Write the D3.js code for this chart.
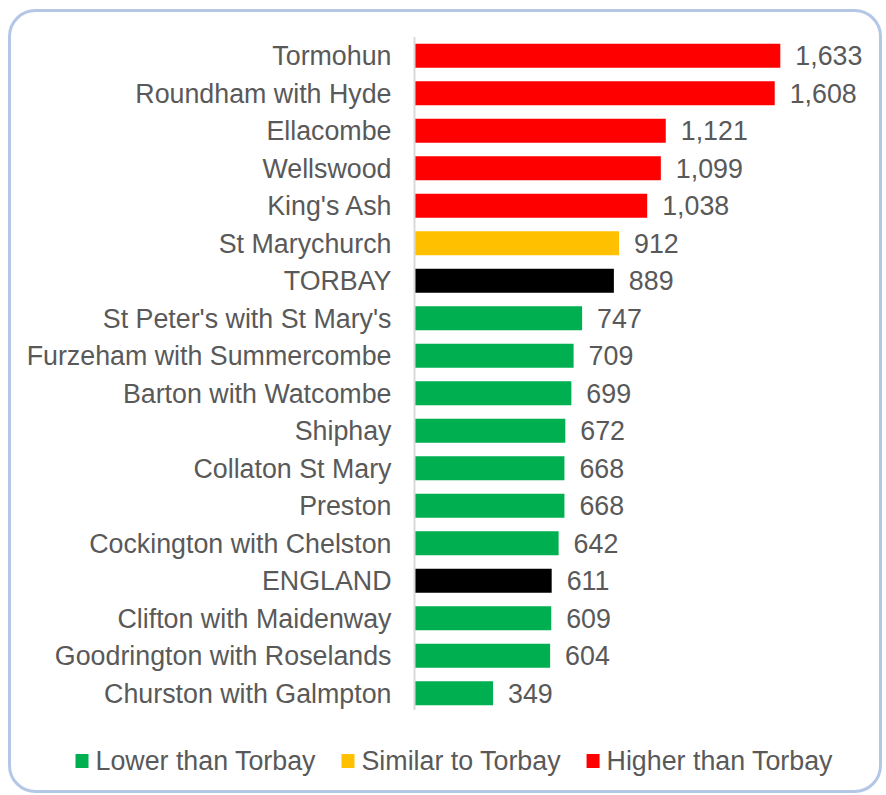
<!DOCTYPE html>
<html>
<head>
<meta charset="utf-8">
<script src="https://cdn.jsdelivr.net/npm/d3@7"></script>
<style>
  body { margin: 0; background: #fff; }
  text { font-family: Arial, "Liberation Sans", sans-serif; fill: #595959; }
</style>
</head>
<body>
<svg id="viz"></svg>
<script>
const WIDTH = 886
const HEIGHT = 795

const WARDS = [
    'Tormohun', 'Roundham with Hyde', 'Ellacombe', 'Wellswood', "King's Ash",
    'St Marychurch', 'TORBAY', "St Peter's with St Mary's", 'Furzeham with Summercombe',
    'Barton with Watcombe', 'Shiphay', 'Collaton St Mary', 'Preston',
    'Cockington with Chelston', 'ENGLAND', 'Clifton with Maidenway',
    'Goodrington with Roselands', 'Churston with Galmpton'
]
const VALUES = [1633, 1608, 1121, 1099, 1038, 912, 889, 747, 709, 699, 672, 668, 668, 642, 611, 609, 604, 349]
// h = higher, s = similar, l = lower, c = comparator (Torbay / England)
const GROUPS = ['h', 'h', 'h', 'h', 'h', 's', 'c', 'l', 'l', 'l', 'l', 'l', 'l', 'l', 'c', 'l', 'l', 'l']

const LEGEND_KEYS = ['l', 's', 'h']
const LEGEND_LABELS = ['Lower than Torbay', 'Similar to Torbay', 'Higher than Torbay']

const COLORS = { h: '#ff0000', s: '#ffc000', l: '#00b050', c: '#000000' }

const FONT_SIZE = 26.8
const PLOT_LEFT = 415
const PLOT_TOP = 37
const PLOT_BOTTOM = 712

const svg = d3.select('#viz')
    .attr('width', WIDTH)
    .attr('height', HEIGHT)

// frame
svg.append('rect')
    .attr('x', 9.5).attr('y', 10.5)
    .attr('width', 871).attr('height', 781)
    .attr('rx', 26).attr('ry', 26)
    .style('fill', '#fff')
    .style('stroke', '#b4c7e7')
    .style('stroke-width', 3)

const data = WARDS.map((ward, i) => ({ ward, value: VALUES[i], group: GROUPS[i] }))

const x = d3.scaleLinear()
    .domain([0, 1800])
    .range([PLOT_LEFT, PLOT_LEFT + 1800 * 0.2237])

const y = d3.scaleBand()
    .domain(WARDS)
    .range([PLOT_TOP, PLOT_BOTTOM])
    .paddingInner(0.36)
    .paddingOuter(0.18)

svg.selectAll('rect.bar')
    .data(data)
    .enter().append('rect')
        .attr('class', 'bar')
        .attr('x', x(0))
        .attr('y', d => y(d.ward))
        .attr('width', d => x(d.value) - x(0))
        .attr('height', y.bandwidth())
        .style('fill', d => COLORS[d.group])

// category axis
const yAxis = svg.append('g')
    .attr('transform', `translate(${x(0) - 0.5},0)`)
    .call(d3.axisLeft(y).tickSize(0).tickPadding(23))
yAxis.select('.domain')
    .attr('d', `M0,${PLOT_TOP}V${PLOT_BOTTOM - 2}`)
    .style('stroke', '#d9d9d9')
    .style('stroke-width', 2)
yAxis.selectAll('text')
    .style('font-size', FONT_SIZE + 'px')
    .style('font-family', 'Arial, "Liberation Sans", sans-serif')
    .style('fill', '#595959')
    .attr('dy', '0.35em')

// value labels
svg.selectAll('text.value')
    .data(data)
    .enter().append('text')
        .attr('class', 'value')
        .attr('x', d => x(d.value) + 15)
        .attr('y', d => y(d.ward) + y.bandwidth() / 2)
        .attr('dy', '0.35em')
        .style('font-size', FONT_SIZE + 'px')
        .text(d => d3.format(',')(d.value))

// legend
const legend = svg.append('g')
const items = legend.selectAll('g')
    .data(LEGEND_KEYS)
    .enter().append('g')
items.append('rect')
    .attr('y', -7).attr('width', 13).attr('height', 14)
    .style('fill', d => COLORS[d])
items.append('text')
    .attr('x', 20)
    .attr('dy', '0.35em')
    .style('font-size', FONT_SIZE + 'px')
    .text((d, i) => LEGEND_LABELS[i])

let offset = 0
items.each(function () {
    const w = 20 + d3.select(this).select('text').node().getComputedTextLength()
    d3.select(this).attr('transform', `translate(${offset},0)`)
    offset += w + 26
})
const legendWidth = offset - 26
legend.attr('transform', `translate(${454 - legendWidth / 2},761)`)
</script>
</body>
</html>
